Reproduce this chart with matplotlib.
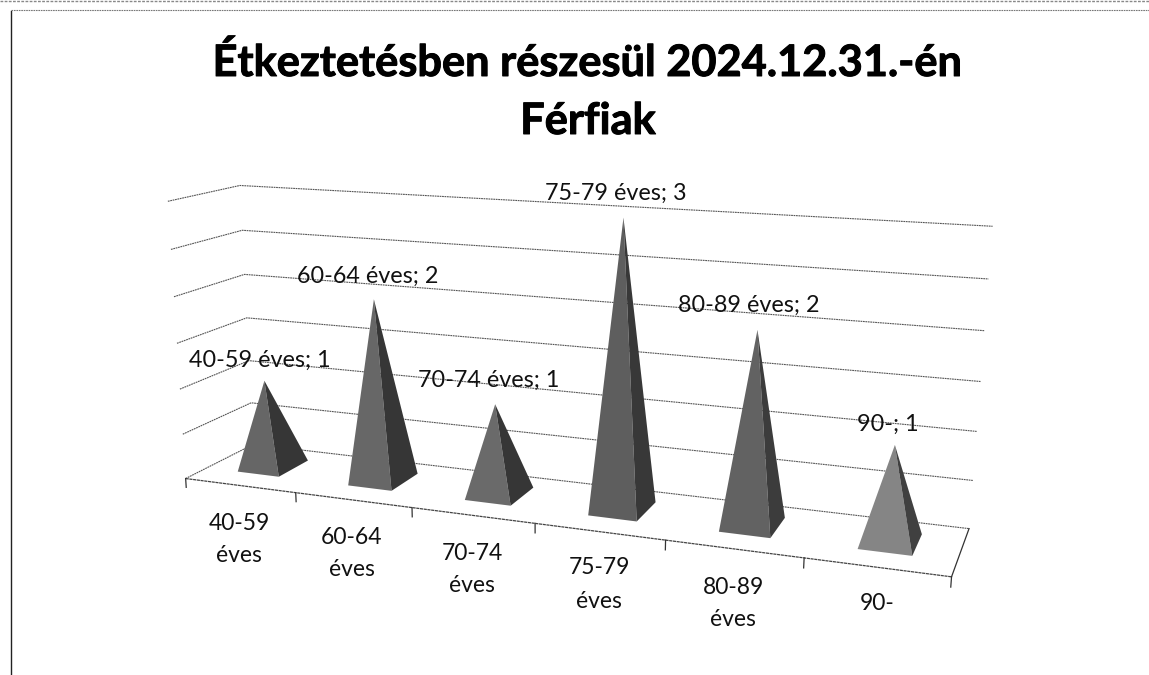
import numpy as np
import matplotlib
matplotlib.use("Agg")
import matplotlib.pyplot as plt
from matplotlib.patches import Polygon
import matplotlib.patheffects as pe

plt.rcParams['font.family'] = ['Lato', 'DejaVu Sans']

title_lines = ["Étkeztetésben részesül 2024.12.31.-én", "Férfiak"]
categories = ["40-59 éves", "60-64 éves", "70-74 éves", "75-79 éves", "80-89 éves", "90-"]
values = [1, 2, 1, 3, 2, 1]
gridlines = [0.5, 1.0, 1.5, 2.0, 2.5, 3.0]

# camera calibration: (category position, depth, value) -> pixel
calib_world = np.array([[0,0,0],[6,0,0],[0,1,0],[6,1,0],[0,0,3],[0,1,3],[6,1,3],
                        [1,0,0],[3,0,0],[5,0,0],[6,1,1.5],[0,0,1.5],[0,1,1.5]], float)
calib_px = np.array([[186,478],[952,577],[254,446],[969,528],[168,202],[240,185],[993,227],
                     [295,492],[535,524],[804,558],[980,381],[177,343],[246,317]], float)

A, b = [], []
for (X, Y, Z), (u, v) in zip(calib_world, calib_px):
    A.append([X, Y, Z, 1, 0, 0, 0, 0, -u*X, -u*Y, -u*Z]); b.append(u)
    A.append([0, 0, 0, 0, X, Y, Z, 1, -v*X, -v*Y, -v*Z]); b.append(v)
m = np.linalg.lstsq(np.array(A), np.array(b), rcond=None)[0]
M = np.append(m, 1).reshape(3, 4)

def proj(x, d, z):
    p = M @ np.array([x, d, z, 1.0])
    return p[0]/p[2], p[1]/p[2]

fig = plt.figure(figsize=(11.49, 6.75), dpi=100)
ax = fig.add_axes([0, 0, 1, 1])
ax.set_xlim(0, 1149); ax.set_ylim(675, 0); ax.axis('off')

# page frame
ax.plot([11, 11], [11, 675], color='#222222', lw=1.0)
ax.plot([11, 1149], [10, 10], color='#777777', lw=0.8, ls=(0, (1.5, 0.7)))
ax.plot([0, 1149], [1, 1], color='#888888', lw=1.0, ls=(0, (2, 1)))

grid_style = dict(color='#555555', lw=0.8, ls=(0, (1.6, 0.6)), zorder=1)
for g in gridlines:
    pts = [proj(0, 0, g), proj(0, 1, g), proj(6, 1, g)]
    ax.plot(*zip(*pts), **grid_style)
pts = [proj(0, 0, 0), proj(0, 1, 0), proj(6, 1, 0)]
ax.plot(*zip(*pts), **grid_style)
pts = [proj(0, 0, 0), proj(6, 0, 0)]
ax.plot(*zip(*pts), color='#444444', lw=0.9, ls=(0, (2.5, 0.5)), zorder=1)
pts = [proj(6, 0, 0), proj(6, 1, 0)]
ax.plot(*zip(*pts), color='#333333', lw=0.9, zorder=1)
for i in range(len(categories) + 1):
    pts = [proj(i, 0, 0), proj(i, 0, -0.1)]
    ax.plot(*zip(*pts), color='#333333', lw=0.9, zorder=1)

front_colors = ['#666666', '#676767', '#6a6a6a', '#5e5e5e', '#626262', '#858585']
side_colors = ['#363636', '#363636', '#363636', '#383838', '#3c3c3c', '#404040']
half_w, half_d = 0.19, 0.23
for i, v in enumerate(values):
    cx = i + 0.48 + 0.005*i
    cd = 0.53
    fl = proj(cx-half_w, cd-half_d, 0)
    fr = proj(cx+half_w, cd-half_d, 0)
    br = proj(cx+half_w, cd+half_d, 0)
    apex = proj(cx, cd-0.07, v)
    ax.add_patch(Polygon([fl, fr, apex], closed=True, fc=front_colors[i], ec='none', zorder=3))
    ax.add_patch(Polygon([fr, br, apex], closed=True, fc=side_colors[i], ec='none', zorder=3))

# data labels
label_pos = [(260, 360), (368, 276), (489, 380), (616, 193), (749, 305), (888, 424)]
for (lx, ly), c, v in zip(label_pos, categories, values):
    ax.text(lx, ly, f"{c}; {v}", ha='center', va='center', fontsize=16.8, color='#111111', zorder=5)

# category labels, one text per wrapped line
cat_x = [239, 352, 472, 599, 733, 877]
cat_y1 = [523, 537, 553, 568, 587, 603]
cat_y2 = [556, 570, 585, 602, 620, 0]
for lx, y1, y2, c in zip(cat_x, cat_y1, cat_y2, categories):
    parts = c.split(' ')
    ax.text(lx, y1, parts[0], ha='center', va='center', fontsize=16.5, color='#111111')
    if len(parts) == 2:
        ax.text(lx, y2, parts[1], ha='center', va='center', fontsize=16.5, color='#111111')

stroke = [pe.withStroke(linewidth=0.7, foreground='black')]
ax.text(588, 76, title_lines[0], ha='center', va='baseline', fontsize=31.2,
        fontweight='bold', color='black', path_effects=stroke)
ax.text(588, 134, title_lines[1], ha='center', va='baseline', fontsize=31.2,
        fontweight='bold', color='black', path_effects=stroke)

fig.savefig("out.png", dpi=100)
